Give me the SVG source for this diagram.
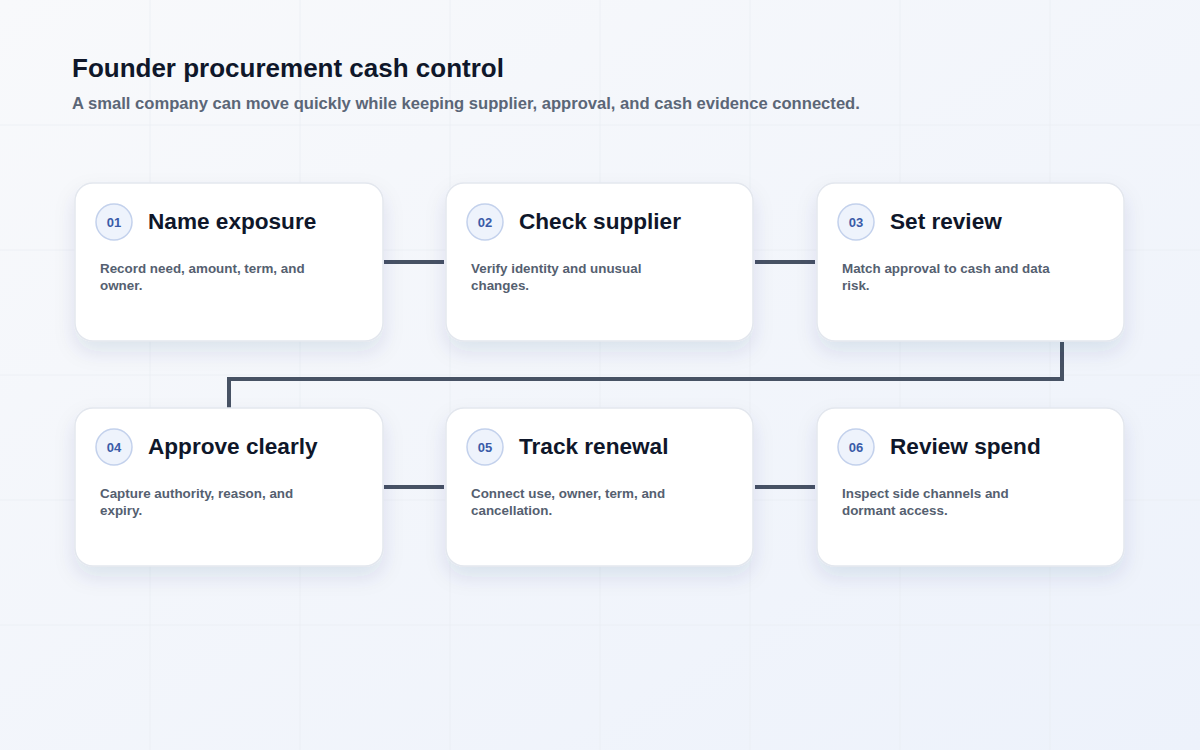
<svg xmlns="http://www.w3.org/2000/svg" width="1200" height="750" viewBox="0 0 1200 750">
<defs>
<linearGradient id="bg" x1="0" y1="0" x2="1" y2="1">
<stop offset="0" stop-color="#f8f9fb"/>
<stop offset="1" stop-color="#edf2fb"/>
</linearGradient>
<filter id="sh" x="-20%" y="-20%" width="140%" height="160%">
<feDropShadow dx="0" dy="10" stdDeviation="10" flood-color="#1e3a6e" flood-opacity="0.10"/>
</filter>
<style>
.card{fill:#ffffff;stroke:#e3e7ee;stroke-width:1.5;filter:url(#sh)}
.badge{fill:#eef3fc;stroke:#c3d1ec;stroke-width:1.5}
.num{font-family:"Liberation Sans",Arial,sans-serif;font-size:13px;font-weight:700;fill:#3a5ba8;text-anchor:middle}
.ttl{font-family:"Liberation Sans",Arial,sans-serif;font-size:22.6px;font-weight:700;fill:#0f172a}
.desc{font-family:"Liberation Sans",Arial,sans-serif;font-size:13.4px;font-weight:700;fill:#556070}
.conn{fill:none;stroke:#475264;stroke-width:4}
.grid{stroke:#e9edf3;stroke-width:1;opacity:0.7}
</style>
</defs>
<rect width="1200" height="750" fill="url(#bg)"/>
<g id="grid">
<line class="grid" x1="150" y1="0" x2="150" y2="750"/>
<line class="grid" x1="300" y1="0" x2="300" y2="750"/>
<line class="grid" x1="450" y1="0" x2="450" y2="750"/>
<line class="grid" x1="600" y1="0" x2="600" y2="750"/>
<line class="grid" x1="750" y1="0" x2="750" y2="750"/>
<line class="grid" x1="900" y1="0" x2="900" y2="750"/>
<line class="grid" x1="1050" y1="0" x2="1050" y2="750"/>
<line class="grid" x1="0" y1="125" x2="1200" y2="125"/>
<line class="grid" x1="0" y1="250" x2="1200" y2="250"/>
<line class="grid" x1="0" y1="375" x2="1200" y2="375"/>
<line class="grid" x1="0" y1="500" x2="1200" y2="500"/>
<line class="grid" x1="0" y1="625" x2="1200" y2="625"/>
</g>
<g id="header">
<text x="72" y="77" font-family="'Liberation Sans',Arial,sans-serif" font-size="26" font-weight="700" fill="#0f172a">Founder procurement cash control</text>
<text x="72" y="109" font-family="'Liberation Sans',Arial,sans-serif" font-size="16.6" font-weight="700" fill="#5b6677">A small company can move quickly while keeping supplier, approval, and cash evidence connected.</text>
</g>
<g id="connectors">
<line class="conn" x1="384" y1="262" x2="444" y2="262"/>
<line class="conn" x1="755" y1="262" x2="815" y2="262"/>
<polyline class="conn" points="1062,342 1062,379 229,379 229,408"/>
<line class="conn" x1="384" y1="487" x2="444" y2="487"/>
<line class="conn" x1="755" y1="487" x2="815" y2="487"/>
</g>
<g id="n1">
<rect class="card" x="75" y="183" width="308" height="158" rx="18"/>
<circle class="badge" cx="114" cy="222" r="18"/>
<text class="num" x="114" y="227">01</text>
<text class="ttl" x="148" y="229">Name exposure</text>
<text class="desc" x="100" y="273">Record need, amount, term, and</text>
<text class="desc" x="100" y="290">owner.</text>
</g>
<g id="n2">
<rect class="card" x="446" y="183" width="307" height="158" rx="18"/>
<circle class="badge" cx="485" cy="222" r="18"/>
<text class="num" x="485" y="227">02</text>
<text class="ttl" x="519" y="229">Check supplier</text>
<text class="desc" x="471" y="273">Verify identity and unusual</text>
<text class="desc" x="471" y="290">changes.</text>
</g>
<g id="n3">
<rect class="card" x="817" y="183" width="307" height="158" rx="18"/>
<circle class="badge" cx="856" cy="222" r="18"/>
<text class="num" x="856" y="227">03</text>
<text class="ttl" x="890" y="229">Set review</text>
<text class="desc" x="842" y="273">Match approval to cash and data</text>
<text class="desc" x="842" y="290">risk.</text>
</g>
<g id="n4">
<rect class="card" x="75" y="408" width="308" height="158" rx="18"/>
<circle class="badge" cx="114" cy="447" r="18"/>
<text class="num" x="114" y="452">04</text>
<text class="ttl" x="148" y="454">Approve clearly</text>
<text class="desc" x="100" y="498">Capture authority, reason, and</text>
<text class="desc" x="100" y="515">expiry.</text>
</g>
<g id="n5">
<rect class="card" x="446" y="408" width="307" height="158" rx="18"/>
<circle class="badge" cx="485" cy="447" r="18"/>
<text class="num" x="485" y="452">05</text>
<text class="ttl" x="519" y="454">Track renewal</text>
<text class="desc" x="471" y="498">Connect use, owner, term, and</text>
<text class="desc" x="471" y="515">cancellation.</text>
</g>
<g id="n6">
<rect class="card" x="817" y="408" width="307" height="158" rx="18"/>
<circle class="badge" cx="856" cy="447" r="18"/>
<text class="num" x="856" y="452">06</text>
<text class="ttl" x="890" y="454">Review spend</text>
<text class="desc" x="842" y="498">Inspect side channels and</text>
<text class="desc" x="842" y="515">dormant access.</text>
</g>
</svg>
